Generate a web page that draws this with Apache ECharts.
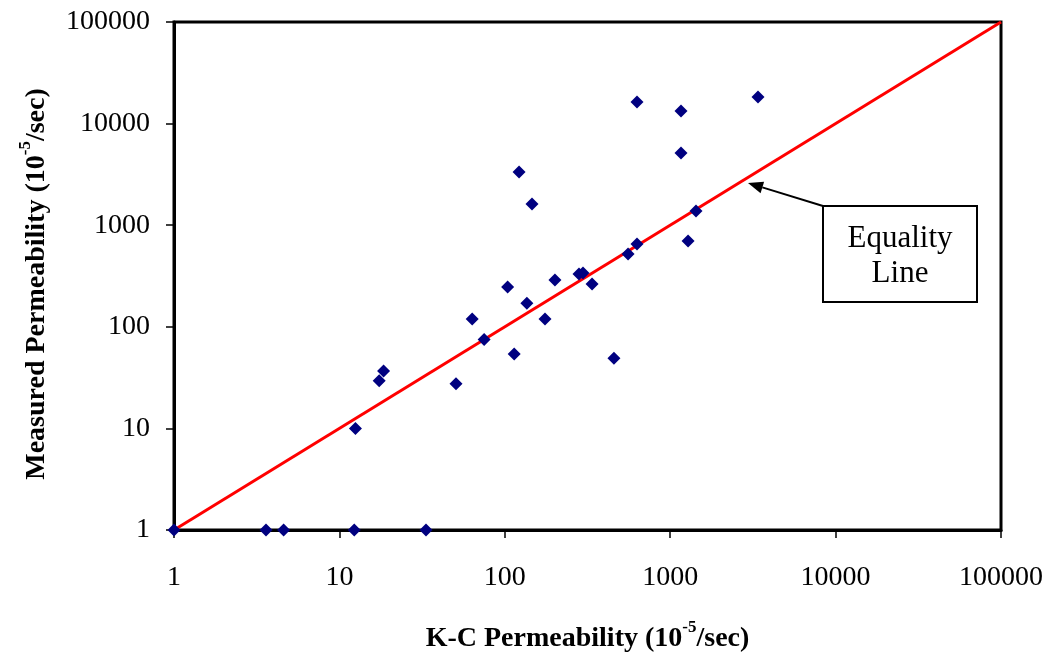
<!DOCTYPE html>
<html>
<head>
<meta charset="utf-8">
<script src="https://cdn.jsdelivr.net/npm/echarts@6/dist/echarts.min.js"></script>
<style>
html,body{margin:0;padding:0;background:#fff;}
#chart{width:1051px;height:655px;}
</style>
</head>
<body>
<div id="chart"></div>
<script>
// K-C permeability (x) vs measured permeability (y), both in 10^-5/sec
var kcPermeability = [1, 3.6, 4.6, 12.3, 33.4, 12.5, 17.4, 18.5, 50.7, 63.5,
  75, 114, 104, 136, 175, 201, 281, 297, 337, 457,
  556, 630, 1282, 1432, 122, 146, 630, 1162, 1162, 3396];
var measuredPermeability = [1, 1, 1, 1, 1, 10, 29.5, 36.7, 27.5, 119,
  75, 54, 246, 171, 119, 289, 331, 339, 264, 49,
  521, 653, 699, 1380, 3340, 1617, 16300, 13300, 5140, 18270];
var equalityLine = [1, 100000];
var tickLabels = ['1', '10', '100', '1000', '10000', '100000'];

var FONT = '"Liberation Serif", "Times New Roman", serif';
var chart = echarts.init(document.getElementById('chart'));

var points = kcPermeability.map(function (x, i) { return [x, measuredPermeability[i]]; });
var lineData = equalityLine.map(function (v) { return [v, v]; });

function fmt(v) {
  var e = Math.round(Math.log10(v));
  return tickLabels[e] !== undefined ? tickLabels[e] : String(Math.round(v));
}

// Annotation geometry (pixel positions of callout box & arrow)
var box = { x: 823, y: 206, w: 154, h: 96 };
var tip = [748, 183];
var tail = [box.x, box.y];
var dx = tail[0] - tip[0], dy = tail[1] - tip[1];
var len = Math.sqrt(dx * dx + dy * dy);
var ux = dx / len, uy = dy / len;
var headLen = 15, headHalf = 6;
var bx = tip[0] + ux * headLen, by = tip[1] + uy * headLen;
var nx = -uy * headHalf, ny = ux * headHalf;

var titleRich = {
  b: { fontFamily: FONT, fontSize: 28, fontWeight: 'bold', color: '#000', lineHeight: 40 },
  s: { fontFamily: FONT, fontSize: 17, fontWeight: 'bold', color: '#000', lineHeight: 20, verticalAlign: 'top' }
};

var option = {
  backgroundColor: '#ffffff',
  animation: false,
  grid: {
    left: 174, right: 50, top: 22, bottom: 125,
    containLabel: false, outerBoundsMode: 'none',
    show: true, borderColor: '#000', borderWidth: 3, backgroundColor: 'transparent'
  },
  xAxis: {
    type: 'log', logBase: 10, min: 1, max: 100000,
    name: '{b|K-C Permeability (10}{s|-5}{b|/sec)}',
    nameLocation: 'middle', nameGap: 89,
    nameTextStyle: { rich: titleRich },
    axisLine: { show: true, lineStyle: { color: '#000', width: 3 } },
    axisTick: { show: true, inside: false, length: 8, lineStyle: { color: '#000', width: 1.5 } },
    minorTick: { show: false },
    splitLine: { show: false },
    axisLabel: { formatter: fmt, fontFamily: FONT, fontSize: 28, color: '#000', margin: 34 }
  },
  yAxis: {
    type: 'log', logBase: 10, min: 1, max: 100000,
    name: '{b|Measured Permeability (10}{s|-5}{b|/sec)}',
    nameLocation: 'middle', nameGap: 117, nameRotate: 90,
    nameTextStyle: { rich: titleRich, padding: [0, 16, 0, 0] },
    axisLine: { show: true, lineStyle: { color: '#000', width: 3 } },
    axisTick: { show: true, inside: false, length: 8, lineStyle: { color: '#000', width: 1.5 } },
    splitLine: { show: false },
    axisLabel: { formatter: fmt, fontFamily: FONT, fontSize: 28, color: '#000', margin: 24 }
  },
  series: [
    {
      type: 'line',
      data: lineData,
      symbol: 'none',
      lineStyle: { color: '#ff0000', width: 3 },
      z: 2
    },
    {
      type: 'scatter',
      data: points,
      symbol: 'diamond',
      symbolSize: 13,
      clip: false,
      itemStyle: { color: '#000080', opacity: 1 },
      z: 3
    }
  ],
  graphic: [
    {
      type: 'line',
      shape: { x1: tail[0], y1: tail[1], x2: bx, y2: by },
      style: { stroke: '#000', lineWidth: 2 },
      z: 10
    },
    {
      type: 'polygon',
      shape: { points: [tip, [bx + nx, by + ny], [bx - nx, by - ny]] },
      style: { fill: '#000' },
      z: 10
    },
    {
      type: 'rect',
      shape: { x: box.x, y: box.y, width: box.w, height: box.h },
      style: { fill: '#fff', stroke: '#000', lineWidth: 2 },
      z: 10
    },
    {
      type: 'text',
      x: box.x + box.w / 2, y: box.y + box.h / 2 + 2,
      style: {
        text: 'Equality\nLine',
        fontFamily: FONT, fontSize: 31, lineHeight: 35,
        fill: '#000', align: 'center', verticalAlign: 'middle'
      },
      z: 11
    }
  ]
};
chart.setOption(option);
</script>
</body>
</html>
